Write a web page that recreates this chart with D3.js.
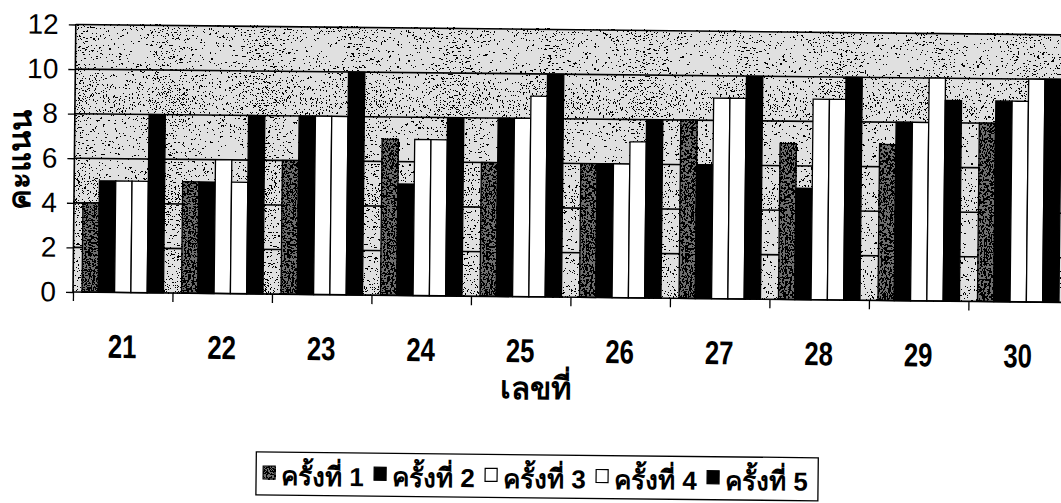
<!DOCTYPE html>
<html><head><meta charset="utf-8">
<script src="https://cdn.jsdelivr.net/npm/d3@7"></script>
<style>body{margin:0;background:#fff;} svg{display:block}</style>
</head><body><svg id="c" width="1061" height="503"></svg>
<script>
const categories = ["21","22","23","24","25","26","27","28","29","30"];
const seriesNames = ["ครั้งที่ 1","ครั้งที่ 2","ครั้งที่ 3","ครั้งที่ 4","ครั้งที่ 5"];
const s1 = [4,5,6,7,6,6,8,7,7,8];
const s2 = [5,5,8,5,8,6,6,5,8,9];
const s3 = [5,6,8,7,8,6,9,9,8,9];
const s4 = [5,5,8,7,9,7,9,9,10,10];
const s5 = [8,8,10,8,10,8,10,10,9,10];
const yTicks = [0,2,4,6,8,10,12];
const yTitle = "คะแนน";
const xTitle = "เลขที่";

const series = [s1,s2,s3,s4,s5];
const fills = ["#6e6e6e","#000000","#ffffff","#ffffff","#000000"];
const FONT = "'Liberation Sans', Arial, 'Noto Sans', sans-serif";

const svg = d3.select("#c");
const defs = svg.append("defs");
function stipple(id, freq, thr){
  const f = defs.append("filter").attr("id",id).attr("x",0).attr("y",0).attr("width","100%").attr("height","100%")
    .attr("filterUnits","objectBoundingBox");
  f.append("feTurbulence").attr("type","fractalNoise").attr("baseFrequency",freq).attr("numOctaves",2).attr("seed",7).attr("result","n");
  f.append("feColorMatrix").attr("in","n").attr("type","matrix")
    .attr("values",`0 0 0 0 0  0 0 0 0 0  0 0 0 0 0  20 0 0 0 ${-20*thr}`).attr("result","a");
  const ct = f.append("feComponentTransfer").attr("in","a");
  ct.append("feFuncA").attr("type","discrete").attr("tableValues","0 1");
}
stipple("stipLight", 1.3, 0.57);
stipple("stipDark", 1.2, 0.48);

const g = svg.append("g").attr("transform","rotate(0.6,73,292)");

const x0 = d3.scaleBand().domain(categories).range([73,1068]);
const x1 = d3.scaleBand().domain(d3.range(5)).range([9, x0.bandwidth()-9]);
const y = d3.scaleLinear().domain([0,12]).range([292,24.5]);
const xe = d3.scaleLinear().domain([0,categories.length]).range([73,1068]);

// plot background (speckled gray)
g.append("rect").attr("x",73).attr("y",y(12)).attr("width",1068-73).attr("height",y(0)-y(12))
  .attr("fill","#e0e0e0");
g.append("rect").attr("x",73).attr("y",y(12)).attr("width",1068-73).attr("height",y(0)-y(12))
  .attr("fill","#000").attr("filter","url(#stipLight)");

// gridlines
g.append("g").selectAll("line").data(yTicks.filter(d=>d>0)).join("line")
  .attr("x1",73).attr("x2",1068).attr("y1",d=>y(d)).attr("y2",d=>y(d))
  .attr("stroke","#000").attr("stroke-width",1.6);

// bars
const cg = g.append("g").selectAll("g").data(categories).join("g")
  .attr("transform",d=>`translate(${x0(d)},0)`);
const bars = cg.selectAll("g.b").data((c,ci)=>series.map((s,si)=>({si,v:s[ci]}))).join("g").attr("class","b");
bars.append("rect")
  .attr("x",d=>x1(d.si)).attr("width",x1.bandwidth())
  .attr("y",d=>y(d.v)).attr("height",d=>y(0)-y(d.v))
  .attr("fill",d=>fills[d.si]).attr("stroke","#000").attr("stroke-width",1.3);
bars.filter(d=>d.si===0).append("rect")
  .attr("x",d=>x1(d.si)).attr("width",x1.bandwidth())
  .attr("y",d=>y(d.v)).attr("height",d=>y(0)-y(d.v))
  .attr("fill","#000").attr("filter","url(#stipDark)");

// y axis
const ya = g.append("g").attr("transform","translate(73,0)")
  .call(d3.axisLeft(y).tickValues(yTicks).tickSize(7).tickPadding(10).tickFormat(d3.format("d")));
ya.select(".domain").attr("stroke","#000").attr("stroke-width",1.6).attr("d",`M-0,${y(0)}V${y(12)}`);
ya.selectAll(".tick line").attr("stroke","#000").attr("stroke-width",1.3);
ya.selectAll("text").attr("font-family",FONT).attr("font-size",28).attr("fill","#000");

// x axis: boundary ticks
const xa = g.append("g").attr("transform",`translate(0,${y(0)})`)
  .call(d3.axisBottom(xe).tickValues(d3.range(categories.length+1)).tickSize(9).tickFormat(""));
xa.select(".domain").attr("stroke","#000").attr("stroke-width",1.6).attr("d","M73,0H1068");
xa.selectAll(".tick line").attr("stroke","#000").attr("stroke-width",1.3);
// x labels
const xl = g.append("g").attr("transform",`translate(0,${y(0)})`)
  .call(d3.axisBottom(x0).tickSize(0).tickPadding(42));
xl.select(".domain").remove();
xl.selectAll("text").attr("font-family",FONT).attr("font-size",33).attr("font-weight","bold")
  .attr("fill","#000").attr("transform","scale(0.78,1)");

// titles
g.append("text").attr("transform",`translate(29,160) rotate(-90)`).attr("text-anchor","middle")
  .attr("font-family",FONT).attr("font-weight","bold").attr("font-size",31).text(yTitle);
g.append("text").attr("x",537).attr("y",394).attr("text-anchor","middle")
  .attr("font-family",FONT).attr("font-weight","bold").attr("font-size",31).text(xTitle);

// legend
const lg = g.append("g");
lg.append("rect").attr("x",258).attr("y",450).attr("width",562).attr("height",43)
  .attr("fill","#fff").attr("stroke","#000").attr("stroke-width",1.3);
const li = lg.selectAll("g.it").data(seriesNames).join("g").attr("class","it")
  .attr("transform",(d,i)=>`translate(${265+i*111},0)`);
li.append("rect").attr("x",0).attr("y",464).attr("width",12).attr("height",13)
  .attr("fill",(d,i)=>fills[i]).attr("stroke","#000").attr("stroke-width",1.2);
li.filter((d,i)=>i===0).append("rect").attr("x",0).attr("y",464).attr("width",12).attr("height",13)
  .attr("fill","#000").attr("filter","url(#stipDark)");
li.append("text").attr("x",18).attr("y",483).attr("font-family",FONT).attr("font-weight","bold")
  .attr("font-size",26).text(d=>d);
</script></body></html>
